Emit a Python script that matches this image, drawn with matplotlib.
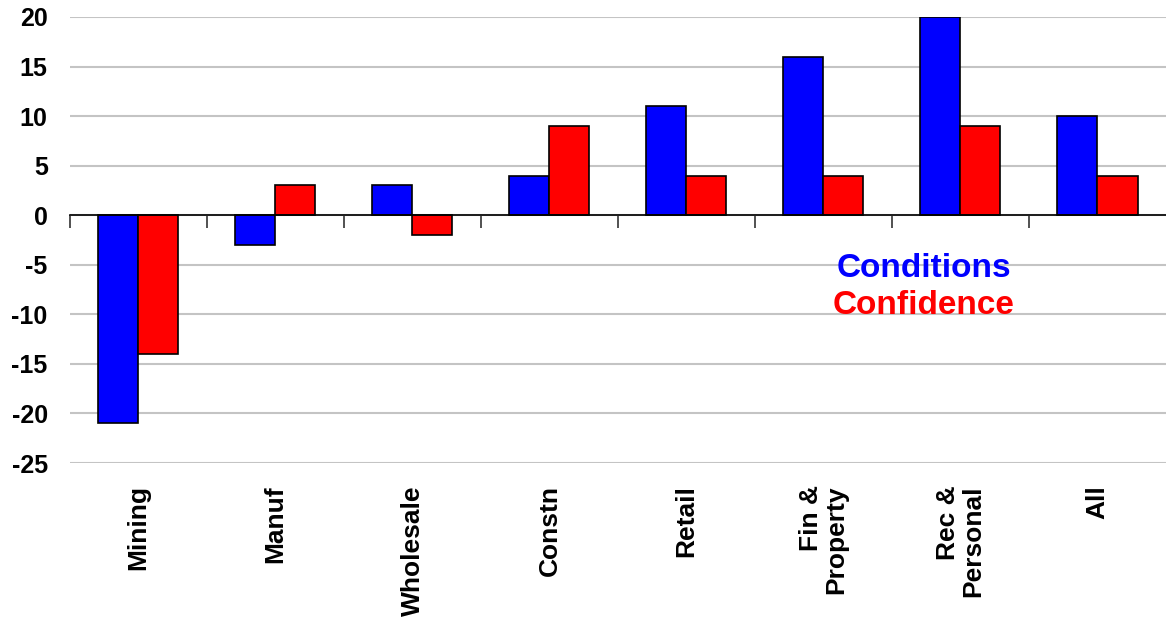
import matplotlib
matplotlib.use('Agg')
import matplotlib.pyplot as plt
import matplotlib.transforms as mtransforms
import numpy as np

# survey results by industry
industries = ['Mining', 'Manuf', 'Wholesale', 'Constn', 'Retail',
              'Fin &\nProperty', 'Rec &\nPersonal', 'All']
conditions = [-21, -3, 3, 4, 11, 16, 20, 10]
confidence = [-14, 3, -2, 9, 4, 4, 9, 4]

plt.rcParams['font.family'] = ['Liberation Sans', 'DejaVu Sans']
plt.rcParams['font.weight'] = 'bold'
plt.rcParams['axes.unicode_minus'] = False

fig = plt.figure(figsize=(11.66, 6.18), dpi=100)
ax = fig.add_axes([0.060, 0.2508, 0.940, 0.7217])

x = np.arange(len(industries))
w = 0.292
ax.bar(x - w / 2, conditions, w, color='#0000ff', edgecolor='black', linewidth=1.2, zorder=3)
ax.bar(x + w / 2, confidence, w, color='#ff0000', edgecolor='black', linewidth=1.2, zorder=3)

ax.set_xlim(-0.5, len(industries) - 0.5)
ax.set_ylim(-25, 20)
ax.set_yticks(np.arange(-25, 21, 5))
ax.grid(axis='y', color='#c4c4c4', linewidth=1.5, zorder=0)

for side in ['left', 'right', 'top']:
    ax.spines[side].set_visible(False)
ax.spines['bottom'].set_position(('data', 0))
ax.spines['bottom'].set_linewidth(1.2)
ax.spines['bottom'].set_zorder(4)

# tick marks between categories on the zero line
ax.set_xticks(np.arange(len(industries)) - 0.5)
ax.set_xticklabels([])
ax.tick_params(axis='x', direction='out', length=9, width=1.2, color='#333333')
ax.tick_params(axis='y', length=0, pad=16, labelsize=18)
for lbl in ax.get_yticklabels():
    lbl.set_fontweight('bold')

trans = mtransforms.blended_transform_factory(ax.transData, ax.transAxes)
for i, name in enumerate(industries):
    ax.text(i, -0.05, name, transform=trans, rotation=90, ha='center', va='top',
            multialignment='right', fontsize=19, fontweight='bold', linespacing=1.1)

ax.text(5.73, -5.35, 'Conditions', color='#0000ff', fontsize=24, fontweight='bold',
        ha='center', va='center')
ax.text(5.73, -9.1, 'Confidence', color='#ff0000', fontsize=24, fontweight='bold',
        ha='center', va='center')

fig.savefig('out.png', dpi=100)
